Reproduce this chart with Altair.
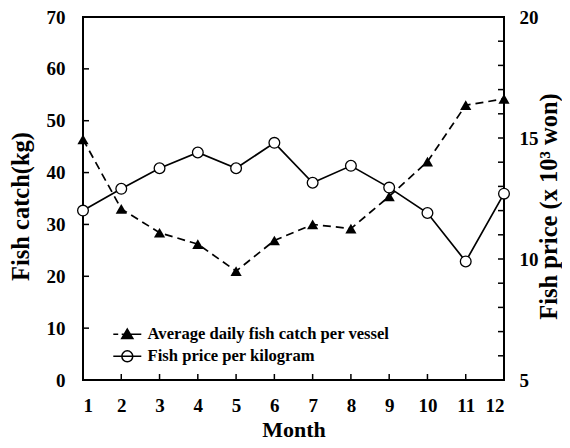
import altair as alt
import pandas as pd

months = list(range(1, 13))
catch_kg = [46.4, 33.0, 28.4, 26.2, 21.0, 26.9, 30.0, 29.2, 35.4, 42.1, 53.0, 54.2]
price_kwon = [12.0, 12.9, 13.75, 14.4, 13.75, 14.8, 13.15, 13.85, 12.95, 11.9, 9.9, 12.7]
series_names = ["Average daily fish catch per vessel", "Fish price per kilogram"]
left_ticks = [0, 10, 20, 30, 40, 50, 60, 70]
right_ticks = list(range(5, 21))

catch_df = pd.DataFrame({"month": months, "value": catch_kg, "series": series_names[0]})
price_df = pd.DataFrame({"month": months, "value": price_kwon, "series": series_names[1]})
xtick_df = pd.DataFrame({"month": months})
ltick_df = pd.DataFrame({"value": left_ticks})
rtick_df = pd.DataFrame({"value": right_ticks})

FONT = "Liberation Serif"
W, H = 421, 363
TICK = 6

TRI_PATH = "M-2,0H-1.3M-0.8,0H2M0,-0.75L0.8,0.6L-0.8,0.6Z"
CIRC_PATH = "M-2,0H2M0.78,0A0.78,0.78,0,1,1,-0.78,0A0.78,0.78,0,1,1,0.78,0"

x_enc = alt.X(
    "month:Q",
    scale=alt.Scale(domain=[1, 12], nice=False, zero=False),
    axis=alt.Axis(
        values=months, title="Month", format="d", ticks=False, labelPadding=16,
        titleX=W / 2, titleY=56, titleBaseline="alphabetic", titleFontSize=22,
    ),
)

legend = alt.Legend(
    title=None, orient="none", legendX=36, legendY=309,
    labelFont=FONT, labelFontSize=16.6, labelFontWeight="bold", labelColor="black",
    labelLimit=0, symbolSize=196, labelOffset=12, rowPadding=4,
    symbolOpacity=1, symbolStrokeColor="black", symbolStrokeWidth=1.5,
)
shape_scale = alt.Scale(domain=series_names, range=[TRI_PATH, CIRC_PATH])
fill_scale = alt.Scale(domain=series_names, range=["black", "white"])
stroke_scale = alt.Scale(domain=series_names, range=["black", "black"])

y_catch = alt.Y(
    "value:Q",
    scale=alt.Scale(domain=[0, 70], nice=False),
    axis=alt.Axis(
        orient="left", values=left_ticks, title="Fish catch(kg)", ticks=False, labelPadding=18,
        titleAngle=270, titleX=-55, titleY=189, titleBaseline="alphabetic", titleAlign="center",
    ),
)
y_price = alt.Y(
    "value:Q",
    scale=alt.Scale(domain=[5, 20], nice=False, zero=False),
    axis=alt.Axis(
        orient="right", values=right_ticks, title="Fish price (x 10³ won)",
        labelExpr="datum.value % 5 === 0 ? datum.label : ''", ticks=False, labelPadding=15,
        titleAngle=270, titleX=52, titleY=189, titleBaseline="alphabetic", titleAlign="center",
    ),
)

# inward tick marks, positioned by the scales
xticks = alt.Chart(xtick_df).mark_rule(color="black", strokeWidth=1.5).encode(
    x=x_enc, y=alt.value(H), y2=alt.value(H - TICK)
)
lticks = alt.Chart(ltick_df).mark_rule(color="black", strokeWidth=1.5).encode(
    y=y_catch, x=alt.value(0), x2=alt.value(TICK)
)
rticks = alt.Chart(rtick_df).mark_rule(color="black", strokeWidth=1.5).encode(
    y=y_price, x=alt.value(W), x2=alt.value(W - TICK)
)

catch_line = alt.Chart(catch_df).mark_line(color="black", strokeWidth=1.7, strokeDash=[8, 5]).encode(x=x_enc, y=y_catch)
catch_pts = alt.Chart(catch_df).mark_point(shape="triangle-up", filled=True, color="black", size=125, opacity=1).encode(
    x=x_enc, y=y_catch
)
legend_layer = alt.Chart(catch_df).mark_point(opacity=0, strokeWidth=1.5).encode(
    x=x_enc, y=y_catch,
    shape=alt.Shape("series:N", scale=shape_scale, legend=legend),
    fill=alt.Fill("series:N", scale=fill_scale, legend=legend),
    stroke=alt.Stroke("series:N", scale=stroke_scale, legend=legend),
)
price_line = alt.Chart(price_df).mark_line(color="black", strokeWidth=1.7).encode(x=x_enc, y=y_price)
price_pts = alt.Chart(price_df).mark_point(shape="circle", filled=False, fill="white", stroke="black", strokeWidth=1.3, size=115, opacity=1).encode(
    x=x_enc, y=y_price
)

left = alt.layer(xticks, lticks, catch_line, catch_pts, legend_layer)
right = alt.layer(rticks, price_line, price_pts)

chart = (
    alt.layer(left, right)
    .resolve_scale(y="independent")
    .properties(
        width=W, height=H,
        autosize=alt.AutoSizeParams(type="none"),
        padding={"left": 75, "top": 9, "right": 58, "bottom": 60},
        background="white",
    )
    .configure_view(stroke="black", strokeWidth=2)
    .configure_axis(
        grid=False, domain=False,
        labelFont=FONT, labelFontSize=19, labelFontWeight="bold", labelColor="black",
        titleFont=FONT, titleFontSize=24.5, titleFontWeight="bold", titleColor="black",
    )
)

chart.save("out.html", embed_options={"renderer": "svg", "actions": False})
